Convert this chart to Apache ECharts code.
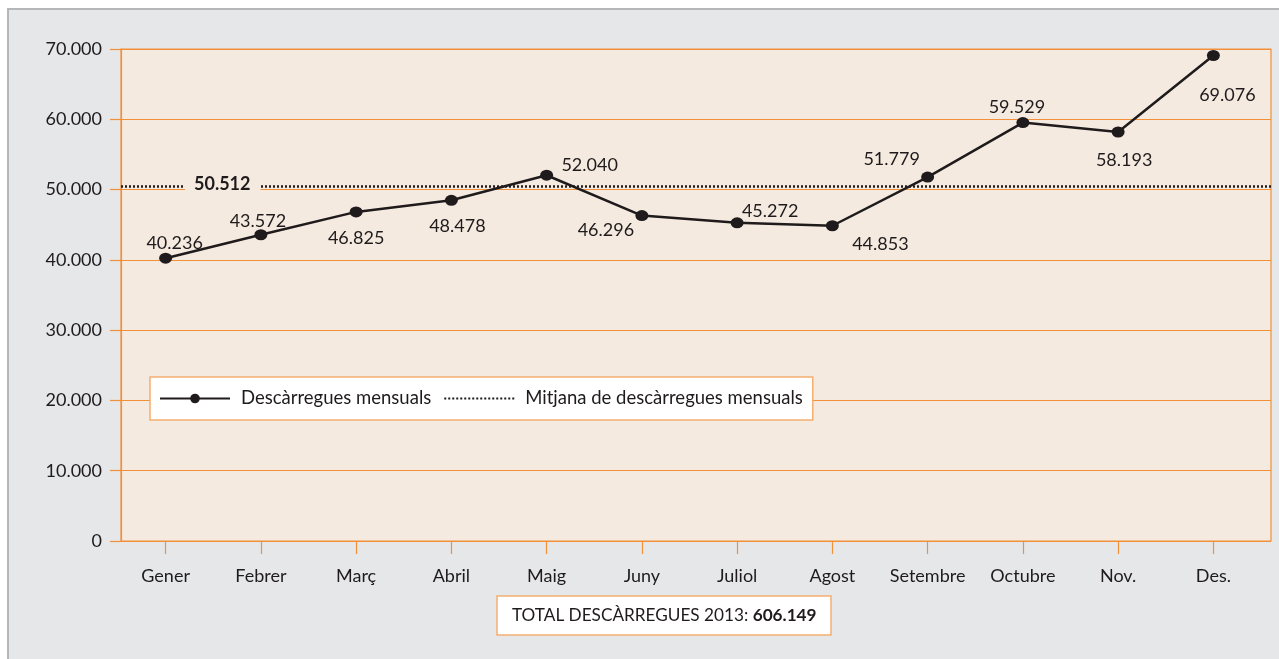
<!DOCTYPE html>
<html>
<head>
<meta charset="utf-8">
<title>Descàrregues mensuals 2013</title>
<script src="https://cdn.jsdelivr.net/npm/echarts@6/dist/echarts.min.js"></script>
<style>
  html, body { margin: 0; padding: 0; background: #ffffff; width: 1279px; height: 659px; overflow: hidden; }
  #frame { position: absolute; left: 7px; top: 8px; width: 1272px; height: 651px;
           border-left: 2px solid #B5B6B8; border-top: 2px solid #B5B6B8; background: #E6E7E9; box-sizing: border-box; }
  #chart { position: absolute; left: 0; top: 0; width: 1279px; height: 659px; }
</style>
</head>
<body>
<div id="frame"></div>
<div id="chart"></div>
<script>
// Monthly downloads, 2013
const months = ['Gener', 'Febrer', 'Març', 'Abril', 'Maig', 'Juny', 'Juliol', 'Agost', 'Setembre', 'Octubre', 'Nov.', 'Des.'];
const downloads = [40236, 43572, 46825, 48478, 52040, 46296, 45272, 44853, 51779, 59529, 58193, 69076];
const yTicks = [0, 10000, 20000, 30000, 40000, 50000, 60000, 70000];
const seriesName = 'Descàrregues mensuals';
const meanName = 'Mitjana de descàrregues mensuals';
const totalCaption = 'TOTAL DESCÀRREGUES 2013: ';

const total = downloads.reduce((a, b) => a + b, 0);
const mean = total / downloads.length;

// Catalan-style thousands separator
function fmt(v) {
  return String(Math.round(v)).replace(/\B(?=(\d{3})+(?!\d))/g, '.');
}

// Label offset (px) from each point's centre
const labelOffsets = [[9, -15], [-3, -14], [0, 26], [6, 26], [43, -10], [-36, 15],
                      [33, -12], [48, 18], [-36, -18], [-6, -15], [6, 28], [14, 40]];

const FONT = 'Lato';
const INK = '#1F1B1C';
const ORANGE = '#F2903A';
const BOX_BORDER = '#F5AE70';
const PLOT_BG = '#F4EAE0';

const yMin = yTicks[0], yMax = yTicks[yTicks.length - 1], yStep = yTicks[1] - yTicks[0];

const chart = echarts.init(document.getElementById('chart'), null, { renderer: 'canvas' });

chart.setOption({
  backgroundColor: 'transparent',
  textStyle: { fontFamily: FONT, color: INK },
  animation: false,
  grid: [
    // category band for the monthly points
    { left: 118, top: 49, right: 18, bottom: 118, show: false },
    // framed plot area with value gridlines
    { left: 121, top: 49, right: 8, bottom: 118,
      show: true, backgroundColor: PLOT_BG, borderColor: ORANGE, borderWidth: 1.2 }
  ],
  title: {
    text: '{n|' + totalCaption + '}{b|' + fmt(total) + '}',
    left: 497, top: 596,
    backgroundColor: '#ffffff', borderColor: BOX_BORDER, borderWidth: 1.5,
    padding: [11, 15, 11, 15],
    textStyle: {
      fontWeight: 'normal',
      rich: {
        n: { fontFamily: FONT, fontSize: 17.2, fontWeight: 'normal', color: INK },
        b: { fontFamily: FONT, fontSize: 17.2, fontWeight: 'bold', color: INK }
      }
    }
  },
  legend: {
    left: 150, top: 377,
    backgroundColor: '#ffffff', borderColor: BOX_BORDER, borderWidth: 1.5,
    padding: [12, 10, 12, 9],
    itemWidth: 70, itemHeight: 12, itemGap: 12,
    textStyle: { fontFamily: FONT, fontSize: 18.5, color: INK, padding: [0, 0, 0, 6] },
    data: [seriesName, meanName]
  },
  xAxis: [
    {
      gridIndex: 0,
      type: 'category',
      data: months,
      boundaryGap: true,
      axisLine: { show: false },
      axisTick: { show: true, alignWithLabel: true, interval: 0, length: 13, lineStyle: { color: ORANGE, width: 1.2 } },
      axisLabel: { interval: 0, margin: 26, fontFamily: FONT, fontSize: 18, color: INK },
      splitLine: { show: false }
    },
    {
      gridIndex: 1,
      type: 'category',
      data: months,
      show: false
    }
  ],
  yAxis: [
    {
      gridIndex: 0,
      type: 'value',
      min: yMin, max: yMax, interval: yStep,
      show: false
    },
    {
      gridIndex: 1,
      type: 'value',
      min: yMin, max: yMax, interval: yStep,
      axisLine: { show: true, lineStyle: { color: ORANGE, width: 1.2 } },
      axisTick: { show: true, length: 11, lineStyle: { color: ORANGE, width: 1.2 } },
      axisLabel: { margin: 19, fontFamily: FONT, fontSize: 18, color: INK, formatter: v => fmt(v) },
      splitLine: { show: true, lineStyle: { color: ORANGE, width: 1.2 } }
    }
  ],
  series: [
    {
      name: meanName,
      type: 'line',
      xAxisIndex: 1, yAxisIndex: 1,
      data: months.map(() => null),
      symbol: 'none',
      showSymbol: false,
      lineStyle: { color: INK, width: 2.5, type: [2, 2] },
      // no point markers for the average, so the legend shows just the dotted line
      itemStyle: { color: 'rgba(0,0,0,0)', borderWidth: 0 },
      markLine: {
        silent: true,
        symbol: ['none', 'none'],
        lineStyle: { color: INK, width: 2.5, type: [2, 2] },
        label: {
          show: true,
          position: 'insideStartTop',
          distance: [64, 0],
          offset: [0, 9],
          formatter: () => fmt(mean),
          fontFamily: FONT, fontSize: 18, fontWeight: 'bold', color: INK,
          backgroundColor: PLOT_BG,
          padding: [2, 10, 2, 9]
        },
        data: [{ yAxis: mean }]
      },
      z: 2
    },
    {
      name: seriesName,
      type: 'line',
      xAxisIndex: 0, yAxisIndex: 0,
      data: downloads.map((v, i) => ({
        value: v,
        label: { offset: labelOffsets[i] }
      })),
      symbol: 'circle',
      symbolSize: [13, 11],
      lineStyle: { color: INK, width: 2.5 },
      itemStyle: { color: INK },
      label: {
        show: true,
        position: 'inside',
        formatter: p => fmt(p.value),
        fontFamily: FONT, fontSize: 18, color: INK
      },
      z: 3
    }
  ]
});
</script>
</body>
</html>
